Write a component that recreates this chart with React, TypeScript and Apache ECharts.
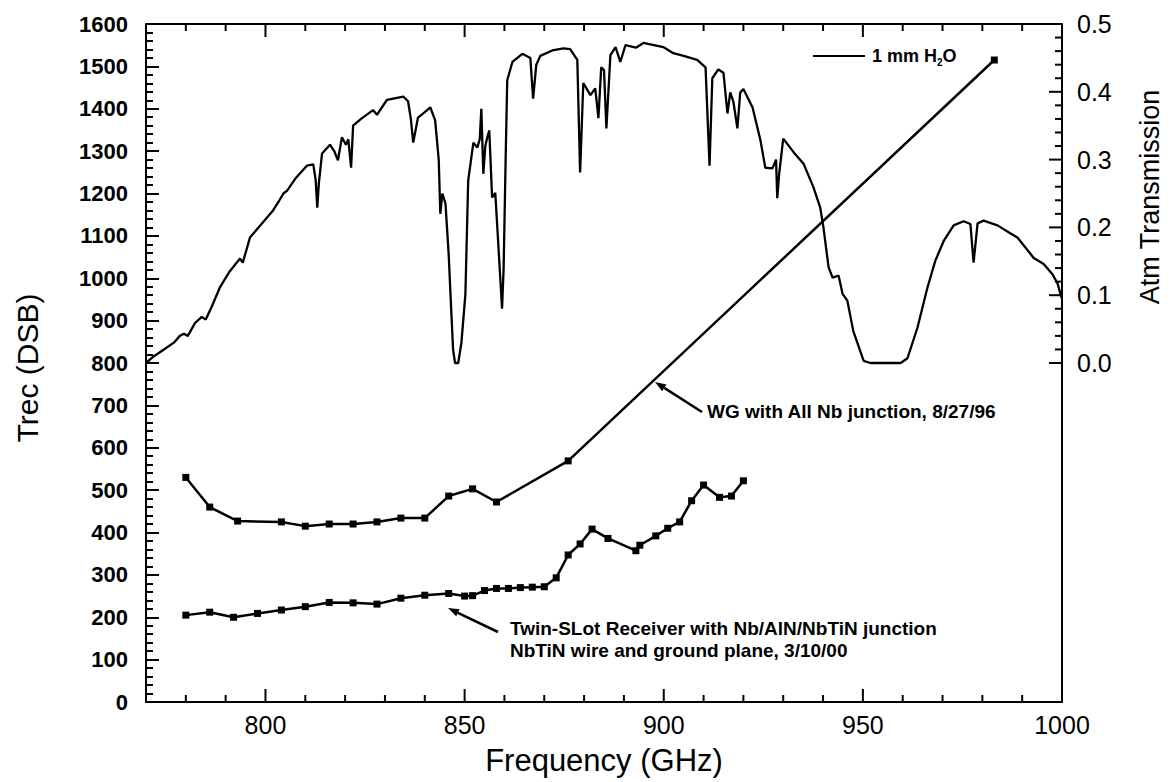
import React, { useEffect, useRef } from 'react';
import * as echarts from 'echarts';

const FONT = '"Liberation Sans", Arial, Helvetica, sans-serif';

// Atmospheric transmission for 1 mm H2O (right axis)
const atmFreq = [
  770, 772, 774.5, 777, 778.5, 779.5, 780.5, 782.3, 784, 785, 786.5, 788.6, 791, 793.6, 794.3, 796.1,
  799, 801.9, 803.5, 804.5, 805.4, 807.5, 810.4, 812, 812.6, 813, 813.4, 814.2, 816.2, 817.3, 818.2,
  819.2, 820.2, 820.8, 821.5, 822, 824, 827, 828, 829, 830.5, 834.6, 835.8, 836.5, 837.1, 838.3, 840,
  841.4, 842.6, 843.5, 843.9, 844.4, 845.2, 846, 847.1, 847.6, 848.4, 849.2, 850.2, 850.9, 852.2, 853.2,
  853.8, 854.2, 854.7, 855.2, 855.7, 856.2, 856.9, 857.7, 858.7, 859.4, 859.8, 860.3, 860.7, 862, 864.5,
  866.5, 867.2, 868, 869, 872, 874.8, 876.5, 878.3, 879, 879.8, 881.6, 882.8, 883.6, 884.3, 885, 885.6,
  886.6, 887.9, 889.1, 890.4, 893, 894.9, 899.9, 901, 902.4, 905, 908.4, 910.5, 911.5, 912.2, 913.7, 915,
  916, 916.7, 917.5, 918.5, 919.2, 920, 922.3, 924.3, 925.5, 927.3, 928.2, 928.5, 929, 930, 932.6, 935.1,
  937.6, 939.3, 940.1, 941.4, 942.4, 943.9, 944.9, 946.1, 947.6, 950.2, 951.9, 959.5, 961.2, 963.7, 966.2,
  968.2, 970.3, 972.8, 975.3, 977, 977.8, 978.8, 980.3, 983.8, 987.1, 988.8, 992.9, 995.4, 997.6, 998.9,
  999.6, 1000,
];
const atmTrans = [
  0.0, 0.01, 0.02, 0.03, 0.04, 0.043, 0.04, 0.059, 0.068, 0.064, 0.083, 0.112, 0.135, 0.154, 0.148, 0.185,
  0.205, 0.225, 0.24, 0.25, 0.254, 0.272, 0.291, 0.293, 0.27, 0.229, 0.265, 0.309, 0.322, 0.312, 0.299,
  0.333, 0.322, 0.33, 0.288, 0.35, 0.36, 0.373, 0.366, 0.375, 0.388, 0.393, 0.386, 0.36, 0.325, 0.362, 0.37,
  0.377, 0.358, 0.3, 0.22, 0.25, 0.235, 0.16, 0.02, 0.0, 0.0, 0.03, 0.102, 0.269, 0.325, 0.318,
  0.33, 0.375, 0.279, 0.32, 0.333, 0.343, 0.244, 0.251, 0.151, 0.08, 0.14, 0.3, 0.417, 0.444, 0.456,
  0.45, 0.39, 0.44, 0.453, 0.461, 0.464, 0.463, 0.447, 0.281, 0.413, 0.395, 0.405, 0.361, 0.436, 0.432, 0.346,
  0.454, 0.466, 0.444, 0.469, 0.465, 0.472, 0.466, 0.462, 0.457, 0.453, 0.447, 0.436, 0.291, 0.42, 0.433, 0.428,
  0.368, 0.399, 0.385, 0.346, 0.399, 0.404, 0.377, 0.328, 0.288, 0.287, 0.3, 0.243, 0.28, 0.331, 0.311, 0.294,
  0.259, 0.229, 0.2, 0.141, 0.126, 0.129, 0.102, 0.092, 0.047, 0.003, 0.0, 0.0, 0.007, 0.052, 0.111,
  0.151, 0.18, 0.203, 0.209, 0.205, 0.148, 0.206, 0.21, 0.203, 0.191, 0.185, 0.155, 0.146, 0.131, 0.117,
  0.102, 0.095,
];

// WG with All Nb junction, 8/27/96
const wgFreq = [780, 786, 793, 804, 810, 816, 822, 828, 834, 840, 846, 852, 858, 876, 983];
const wgTrec = [530, 460, 427, 425, 415, 420, 420, 425, 434, 434, 486, 503, 472, 569, 1515];

// Twin-SLot receiver, 3/10/00
const twinFreq = [
  780, 786, 792, 798, 804, 810, 816, 822, 828, 834, 840, 846, 850, 852, 855, 858, 861, 864, 867, 870,
  873, 876, 879, 882, 886, 893, 894, 898, 901, 904, 907, 910, 914, 917, 920,
];
const twinTrec = [
  205, 212, 200, 209, 217, 225, 235, 234, 231, 245, 252, 256, 250, 251, 263, 268, 268, 270, 271, 272,
  293, 347, 373, 408, 386, 357, 370, 392, 410, 425, 475, 512, 483, 486, 522,
];

// tick positions of the frequency axis (top and bottom) and of the right-hand axis
const xMajorTicks = [800, 850, 900, 950];
const xMinorTicks = [780, 790, 810, 820, 830, 840, 860, 870, 880, 890, 910, 920, 930, 940, 960, 970, 980, 990];
const rightMajorTicks = [0, 0.1, 0.2, 0.3, 0.4, 0.5];
const rightMinorTicks = [
  0.02, 0.04, 0.06, 0.08, 0.12, 0.14, 0.16, 0.18, 0.22, 0.24, 0.26, 0.28, 0.32, 0.34, 0.36, 0.38,
  0.42, 0.44, 0.46, 0.48,
];

const BLACK = '#000';

// plot frame in page pixels and axis ranges
const G_LEFT = 146;
const G_RIGHT = 109;
const G_TOP = 24;
const G_BOTTOM = 80;
const X_MIN = 770;
const X_MAX = 1000;
const Y_MIN = 0;
const Y_MAX = 1600;
const R_MIN = -0.5;
const R_MAX = 0.5;
const PLOT_W = 1171 - G_LEFT - G_RIGHT;
const PLOT_H = 782 - G_TOP - G_BOTTOM;
const MAJOR_LEN = 13;
const MINOR_LEN = 7;

// linear scales matching the axes (used only for the frame's tick marks)
const sx = (v: number) => G_LEFT + ((v - X_MIN) / (X_MAX - X_MIN)) * PLOT_W;
const sr = (v: number) => G_TOP + PLOT_H - ((v - R_MIN) / (R_MAX - R_MIN)) * PLOT_H;

function arrow(tip: number[], tail: number[], len = 11, half = 4): any[] {
  const dx = tip[0] - tail[0];
  const dy = tip[1] - tail[1];
  const d = Math.sqrt(dx * dx + dy * dy);
  const ux = dx / d;
  const uy = dy / d;
  const bx = tip[0] - ux * len;
  const by = tip[1] - uy * len;
  const px = -uy * half;
  const py = ux * half;
  return [
    {
      type: 'line',
      shape: { x1: tail[0], y1: tail[1], x2: bx, y2: by },
      style: { stroke: BLACK, lineWidth: 2.5 },
    },
    {
      type: 'polygon',
      shape: { points: [tip, [bx + px, by + py], [bx - px, by - py]] },
      style: { fill: BLACK },
    },
  ];
}

const tickLine = (x1: number, y1: number, x2: number, y2: number) => ({
  type: 'line',
  silent: true,
  z: 50,
  shape: { x1, y1, x2, y2 },
  style: { stroke: BLACK, lineWidth: 2 },
});

function frameTicks(): any[] {
  const out: any[] = [];
  const yB = G_TOP + PLOT_H;
  const yT = G_TOP;
  const xR = G_LEFT + PLOT_W;
  const addX = (v: number, len: number) => {
    const x = sx(v);
    out.push(tickLine(x, yB, x, yB - len));
    out.push(tickLine(x, yT, x, yT + len));
  };
  const addR = (v: number, len: number) => {
    const y = sr(v);
    out.push(tickLine(xR, y, xR - len, y));
  };
  xMinorTicks.forEach((v) => addX(v, MINOR_LEN));
  xMajorTicks.forEach((v) => addX(v, MAJOR_LEN));
  rightMinorTicks.forEach((v) => addR(v, MINOR_LEN));
  rightMajorTicks.forEach((v) => addR(v, MAJOR_LEN));
  return out;
}

export default function App() {
  const ref = useRef<HTMLDivElement>(null);
  useEffect(() => {
    if (!ref.current) return;
    const chart = echarts.init(ref.current, null, { renderer: 'svg' });
    const option: any = {
      animation: false,
      backgroundColor: '#fff',
      textStyle: { fontFamily: FONT },
      grid: { left: G_LEFT, right: G_RIGHT, top: G_TOP, bottom: G_BOTTOM },
      xAxis: [
        {
          type: 'value', position: 'bottom', min: X_MIN, max: X_MAX, interval: 10,
          axisLine: { show: true, onZero: false, lineStyle: { color: BLACK, width: 2 } },
          axisTick: { show: false },
          axisLabel: {
            show: true, fontSize: 25, margin: 10, color: BLACK, fontFamily: FONT,
            formatter: (v: number) => (Math.abs(v % 50) < 1e-6 ? String(v) : ''),
          },
          splitLine: { show: false },
          name: 'Frequency (GHz)', nameLocation: 'middle', nameGap: 43,
          nameTextStyle: { fontSize: 31, color: BLACK, fontFamily: FONT },
        },
        {
          type: 'value', position: 'top', min: X_MIN, max: X_MAX, interval: 10,
          axisLine: { show: true, onZero: false, lineStyle: { color: BLACK, width: 2 } },
          axisTick: { show: false },
          axisLabel: { show: false },
          splitLine: { show: false },
        },
      ],
      yAxis: [
        {
          type: 'value', position: 'left', min: Y_MIN, max: Y_MAX, interval: 100,
          axisLine: { show: true, onZero: false, lineStyle: { color: BLACK, width: 2 } },
          axisTick: { show: true, inside: true, length: MAJOR_LEN, lineStyle: { color: BLACK, width: 2 } },
          minorTick: { show: true, splitNumber: 5, length: MINOR_LEN, lineStyle: { color: BLACK, width: 2 } },
          axisLabel: {
            formatter: (v: number) => String(v), fontSize: 22, fontWeight: 'bold', margin: 18,
            color: BLACK, fontFamily: FONT,
          },
          splitLine: { show: false },
        },
        {
          type: 'value', position: 'right', min: R_MIN, max: R_MAX, interval: 0.1,
          axisLine: { show: true, onZero: false, lineStyle: { color: BLACK, width: 2 } },
          axisTick: { show: false },
          axisLabel: {
            show: true, fontSize: 25, margin: 15, color: BLACK, fontFamily: FONT,
            formatter: (v: number) => (v < -1e-6 ? '' : Math.abs(v).toFixed(1)),
          },
          splitLine: { show: false },
        },
      ],
      series: [
        {
          name: '1 mm H2O', type: 'line', xAxisIndex: 0, yAxisIndex: 1,
          data: atmFreq.map((f, i) => [f, atmTrans[i]]),
          symbol: 'none', showSymbol: false, clip: true,
          lineStyle: { color: BLACK, width: 2.3 },
        },
        {
          name: 'WG with All Nb junction, 8/27/96', type: 'line', xAxisIndex: 0, yAxisIndex: 0,
          data: wgFreq.map((f, i) => [f, wgTrec[i]]),
          symbol: 'rect', symbolSize: 7, showSymbol: true,
          itemStyle: { color: BLACK },
          lineStyle: { color: BLACK, width: 2.5 },
        },
        {
          name: 'Twin-SLot Receiver', type: 'line', xAxisIndex: 0, yAxisIndex: 0,
          data: twinFreq.map((f, i) => [f, twinTrec[i]]),
          symbol: 'rect', symbolSize: 7, showSymbol: true,
          itemStyle: { color: BLACK },
          lineStyle: { color: BLACK, width: 2.5 },
        },
      ],
      graphic: [
        {
          type: 'text', x: 27, y: 368, rotation: Math.PI / 2,
          style: { text: 'Trec (DSB)', font: `30px ${FONT}`, fill: BLACK, align: 'center', verticalAlign: 'middle' },
        },
        {
          type: 'text', x: 1150, y: 197, rotation: Math.PI / 2,
          style: { text: 'Atm Transmission', font: `27px ${FONT}`, fill: BLACK, align: 'center', verticalAlign: 'middle' },
        },
        {
          type: 'line', shape: { x1: 813, y1: 56, x2: 865, y2: 56 },
          style: { stroke: BLACK, lineWidth: 2 },
        },
        {
          type: 'text', x: 872, y: 45,
          style: {
            text: '{a|1 mm H}{s|2}{a|O}',
            verticalAlign: 'top',
            rich: {
              a: { fontSize: 18, fontWeight: 'bold', fontFamily: FONT, lineHeight: 22, fill: BLACK, color: BLACK },
              s: { fontSize: 10, fontWeight: 'bold', fontFamily: FONT, lineHeight: 12, verticalAlign: 'bottom', fill: BLACK, color: BLACK },
            },
          },
        },
        ...arrow([655, 382], [702, 412]),
        {
          type: 'text', x: 707, y: 411,
          style: { text: 'WG with All Nb junction, 8/27/96', font: `bold 19px ${FONT}`, fill: BLACK, align: 'left', verticalAlign: 'middle' },
        },
        ...arrow([448, 608], [498, 632]),
        {
          type: 'text', x: 510, y: 617,
          style: {
            text: 'Twin-SLot Receiver with Nb/AlN/NbTiN junction\nNbTiN wire and ground plane, 3/10/00',
            font: `bold 19px ${FONT}`, lineHeight: 22, fill: BLACK, align: 'left', verticalAlign: 'top',
          },
        },
        ...frameTicks(),
      ],
    };
    try {
      chart.setOption(option);
    } catch (e) {
      // keep whatever has been drawn
    }
    return () => chart.dispose();
  }, []);
  return (
    <div
      ref={ref}
      style={{ position: 'fixed', left: 0, top: 0, width: 1171, height: 782, background: '#fff' }}
    />
  );
}
